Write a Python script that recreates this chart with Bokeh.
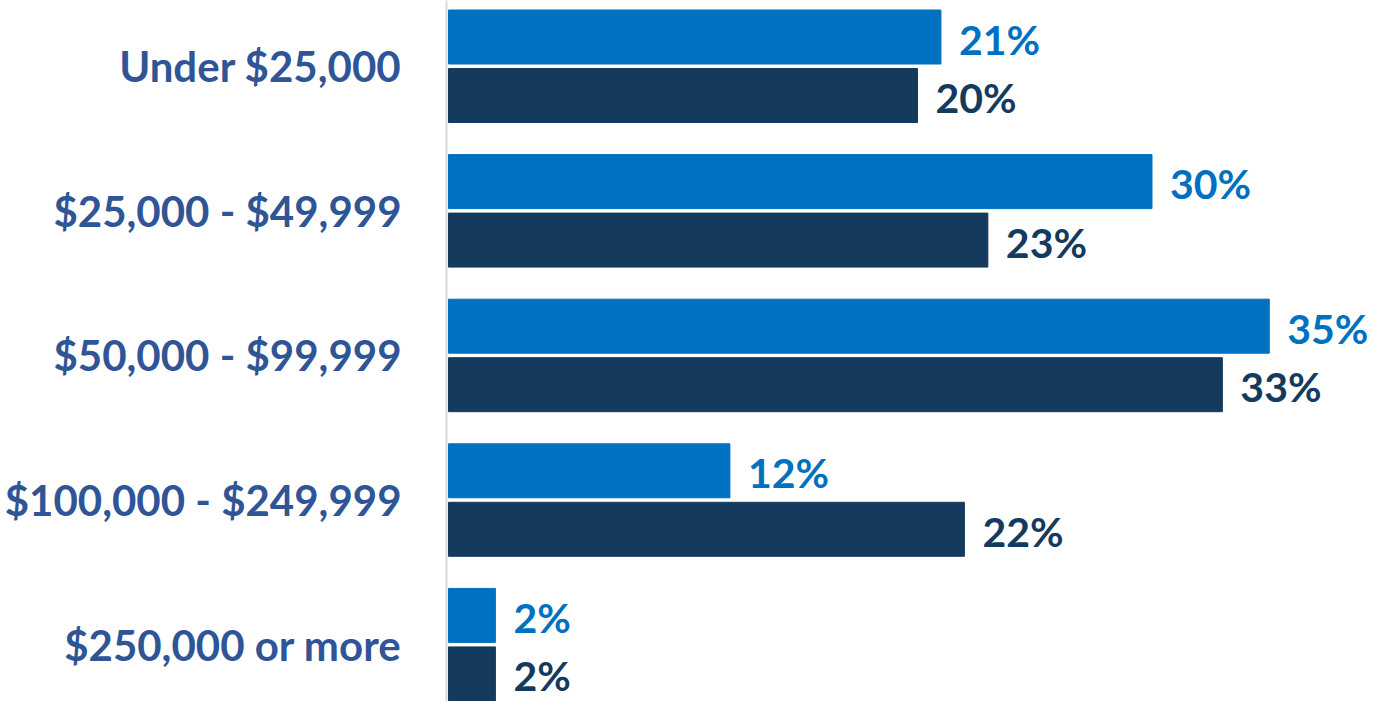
from bokeh.plotting import figure
from bokeh.models import ColumnDataSource, Range1d, FixedTicker
from bokeh.core.properties import value
from bokeh.embed import file_html
from bokeh.resources import INLINE

categories = ["Under $25,000", "$25,000 - $49,999", "$50,000 - $99,999",
              "$100,000 - $249,999", "$250,000 or more"]
series_light = [21, 30, 35, 12, 2]
series_dark = [20, 23, 33, 22, 2]

LIGHT = "#0070C0"
DARK = "#143A5E"
LABEL = "#2F5597"

W, H = 1370, 701
LEFT = 446
PX_PER_PCT = 23.45
PX_PER_CAT = 144.6
TOP_PAD_PX = 65.75
BAR_PX = 54
OFF_PX = 29.25

n = len(categories)
ypos = [n - 1 - i for i in range(n)]
off = OFF_PX / PX_PER_CAT
src = ColumnDataSource(dict(
    y_l=[y + off for y in ypos],
    y_d=[y - off for y in ypos],
    a=series_light,
    b=series_dark,
    la=[f"{v}%" for v in series_light],
    lb=[f"{v}%" for v in series_dark],
))

x0 = -2 / PX_PER_PCT
x1 = x0 + (W - LEFT) / PX_PER_PCT
ytop = (n - 1) + TOP_PAD_PX / PX_PER_CAT
ybot = ytop - H / PX_PER_CAT

p = figure(width=W, height=H, output_backend="svg", toolbar_location=None,
           x_range=Range1d(x0, x1), y_range=Range1d(ybot, ytop))
p.min_border = 0
p.min_border_left = LEFT
p.outline_line_color = None
p.xgrid.visible = False
p.ygrid.visible = False
p.xaxis.visible = False

bh = BAR_PX / PX_PER_CAT
p.hbar(y="y_l", right="a", left=0, height=bh, color=LIGHT, source=src)
p.hbar(y="y_d", right="b", left=0, height=bh, color=DARK, source=src)

common = dict(x_offset=18, y_offset=2, text_baseline="middle", text_align="left",
              text_font=value("Lato"), text_font_style="bold", text_font_size="41px")
p.text(x="a", y="y_l", text="la", text_color=LIGHT, source=src, **common)
p.text(x="b", y="y_d", text="lb", text_color=DARK, source=src, **common)

ax = p.yaxis[0]
ax.ticker = FixedTicker(ticks=ypos)
ax.major_label_overrides = {y: c for y, c in zip(ypos, categories)}
ax.major_tick_line_color = None
ax.major_tick_out = 0
ax.major_tick_in = 0
ax.minor_tick_line_color = None
ax.minor_tick_out = 0
ax.axis_line_color = "#D9D9D9"
ax.axis_line_width = 2
ax.major_label_standoff = 45
ax.major_label_text_font = "Lato"
ax.major_label_text_font_style = "bold"
ax.major_label_text_font_size = "42px"
ax.major_label_text_color = LABEL

open("out.html", "w").write(file_html(p, INLINE))
